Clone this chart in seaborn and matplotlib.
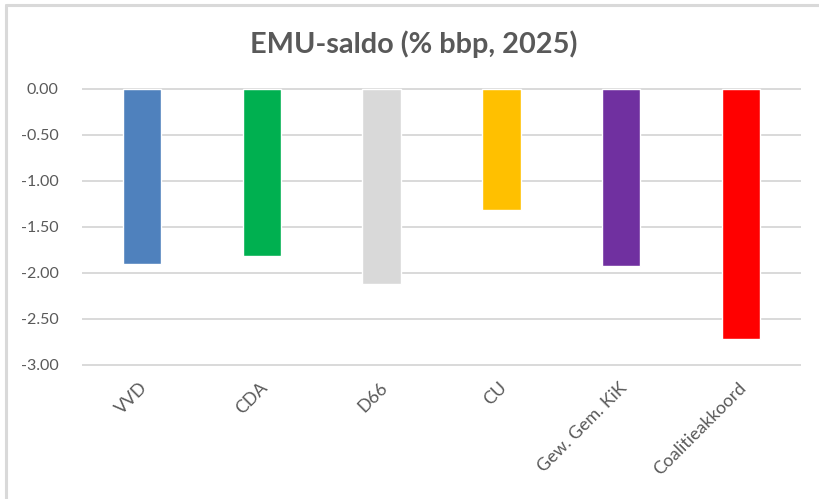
import matplotlib
matplotlib.use("Agg")
import matplotlib.pyplot as plt
import matplotlib.transforms as mtransforms
import seaborn as sns
import pandas as pd
from matplotlib.lines import Line2D

categories = ["VVD", "CDA", "D66", "CU", "Gew. Gem. KiK", "Coalitieakkoord"]
values = [-1.90, -1.81, -2.12, -1.31, -1.92, -2.72]
colors = ["#4F81BD", "#00B050", "#D9D9D9", "#FFC000", "#7030A0", "#FF0000"]
yticks = [0.0, -0.5, -1.0, -1.5, -2.0, -2.5, -3.0]
title = "EMU-saldo (% bbp, 2025)"

sns.set_theme(style="white")
plt.rcParams["font.family"] = ["Lato", "DejaVu Sans"]

W, H = 820, 499
fig = plt.figure(figsize=(W / 100, H / 100), dpi=100)
fig.patch.set_facecolor("white")

x0, x1 = 82, 801
ytop, ybot = 89, 365
pad = 2
ax = fig.add_axes([x0 / W, 1 - (ybot + pad) / H, (x1 - x0) / W, (ybot - ytop + 2 * pad) / H])
upp = 3.0 / (ybot - ytop)

df = pd.DataFrame({"cat": categories, "val": values})
sns.barplot(data=df, x="cat", y="val", hue="cat", palette=colors, width=0.32,
            legend=False, ax=ax, saturation=1, zorder=3)

ax.set_ylim(-3.0 - pad * upp, 0.0 + pad * upp)
ax.set_xlim(-0.5, len(categories) - 0.5)
ax.set_yticks(yticks)
ax.set_yticklabels([f"{v:.2f}" for v in yticks])
for v in yticks:
    ax.axhline(v, color="#D9D9D9", lw=1.4, zorder=1)
for s in ax.spines.values():
    s.set_visible(False)
ax.set_xlabel("")
ax.set_ylabel("")
ax.tick_params(axis="y", length=0, pad=17, labelsize=11.5, labelcolor="#595959")
ax.tick_params(axis="x", length=0, pad=13, labelsize=12.8, labelcolor="#595959")
shift = mtransforms.ScaledTranslation(3 / 100, 0, fig.dpi_scale_trans)
for lab in ax.get_xticklabels():
    lab.set_rotation(45)
    lab.set_ha("right")
    lab.set_va("center")
    lab.set_rotation_mode("anchor")
    lab.set_transform(lab.get_transform() + shift)

fig.text(414 / W, 1 - 44 / H, title, ha="center", va="center",
         fontsize=20.8, fontweight="bold", color="#595959")

fig.add_artist(Line2D([6 / W, 1], [1 - 5 / H, 1 - 5 / H], color="#D9D9D9", lw=2.2))
fig.add_artist(Line2D([6 / W, 6 / W], [0, 1 - 5 / H], color="#D9D9D9", lw=2.2))

fig.savefig("out.png", dpi=100)
